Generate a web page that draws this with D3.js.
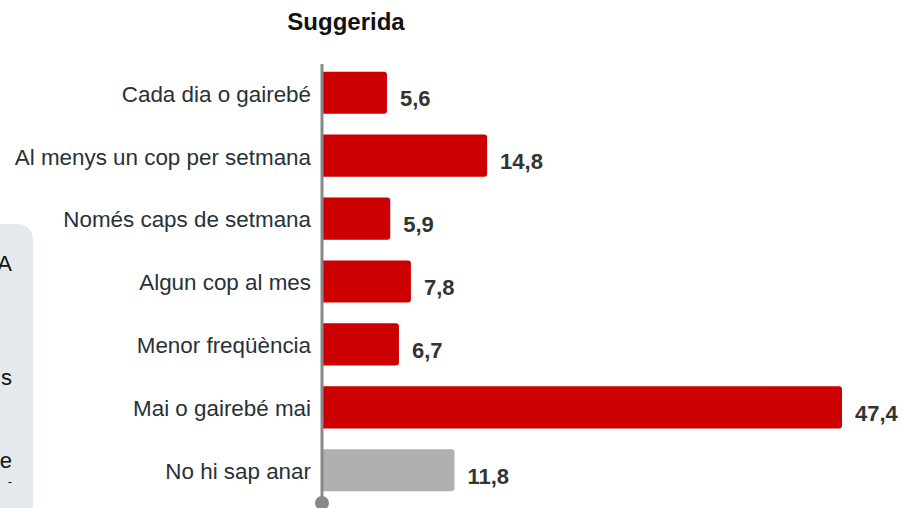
<!DOCTYPE html>
<html>
<head>
<meta charset="utf-8">
<script src="https://cdn.jsdelivr.net/npm/d3@7"></script>
<style>
  body { margin: 0; background: #fff; }
  svg { font-family: "Liberation Sans", Arial, sans-serif; display: block; }
</style>
</head>
<body>
<div id="chart"></div>
<script>
const categories = [
    'Cada dia o gairebé',
    'Al menys un cop per setmana',
    'Només caps de setmana',
    'Algun cop al mes',
    'Menor freqüència',
    'Mai o gairebé mai',
    'No hi sap anar'
];
const values = [5.6, 14.8, 5.9, 7.8, 6.7, 47.4, 11.8];
const colors = ['#cc0000', '#cc0000', '#cc0000', '#cc0000', '#cc0000', '#cc0000', '#b0b0b0'];
const sideNoteEnds = ['A', 's', 'e', '-'];

const width = 901, height = 508;
const svg = d3.select('#chart').append('svg')
    .attr('width', width)
    .attr('height', height);

// Side panel (cut off on the left)
svg.append('rect')
    .attr('x', -30).attr('y', 224)
    .attr('width', 63).attr('height', 320)
    .attr('rx', 15)
    .attr('fill', '#e4eaec');

const noteY = [271, 385, 468, 486];
const noteSize = [22, 22, 22, 13];
sideNoteEnds.forEach((t, i) => {
    svg.append('text')
        .attr('x', 12).attr('y', noteY[i])
        .attr('text-anchor', 'end')
        .style('font-size', noteSize[i] + 'px')
        .attr('fill', '#111')
        .text(t);
});

// Title
svg.append('text')
    .attr('x', 346).attr('y', 30)
    .attr('text-anchor', 'middle')
    .style('font-size', '24px')
    .style('font-weight', 'bold')
    .attr('fill', '#111')
    .text('Suggerida');

const x = d3.scaleLinear().domain([0, 47.4]).range([326, 842]);
const y = d3.scaleBand().domain(categories).range([61, 502]).paddingInner(0.33).paddingOuter(0.17);

const data = categories.map((c, i) => ({ cat: c, val: values[i], color: colors[i] }));

const axisX = x(0) - 4;
const r = 3;
function barPath(d) {
    const x0 = axisX, x1 = x(d.val), y0 = y(d.cat), h = y.bandwidth();
    return `M${x0},${y0} H${x1 - r} Q${x1},${y0} ${x1},${y0 + r} V${y0 + h - r} Q${x1},${y0 + h} ${x1 - r},${y0 + h} H${x0} Z`;
}

svg.selectAll('.bar')
    .data(data)
    .enter().append('path')
    .attr('class', 'bar')
    .attr('d', barPath)
    .attr('fill', d => d.color);

// Category labels
svg.selectAll('.cat')
    .data(data)
    .enter().append('text')
    .attr('class', 'cat')
    .attr('x', 311)
    .attr('y', d => y(d.cat) + y.bandwidth() / 2 + 1)
    .attr('dy', '0.35em')
    .attr('text-anchor', 'end')
    .style('font-size', '22.4px')
    .attr('fill', '#263238')
    .text(d => d.cat);

// Value labels
svg.selectAll('.val')
    .data(data)
    .enter().append('text')
    .attr('class', 'val')
    .attr('x', d => x(d.val) + 13)
    .attr('y', d => y(d.cat) + y.bandwidth() / 2 + 6)
    .attr('dy', '0.35em')
    .style('font-size', '22px')
    .style('font-weight', 'bold')
    .attr('fill', '#333')
    .text(d => d3.format('.1f')(d.val).replace('.', ','));

// Axis line + dot
svg.append('line')
    .attr('x1', axisX).attr('x2', axisX)
    .attr('y1', 64).attr('y2', 503)
    .attr('stroke', '#888').attr('stroke-width', 3);
svg.append('circle')
    .attr('cx', axisX).attr('cy', 503)
    .attr('r', 7)
    .attr('fill', '#888');
</script>
</body>
</html>
